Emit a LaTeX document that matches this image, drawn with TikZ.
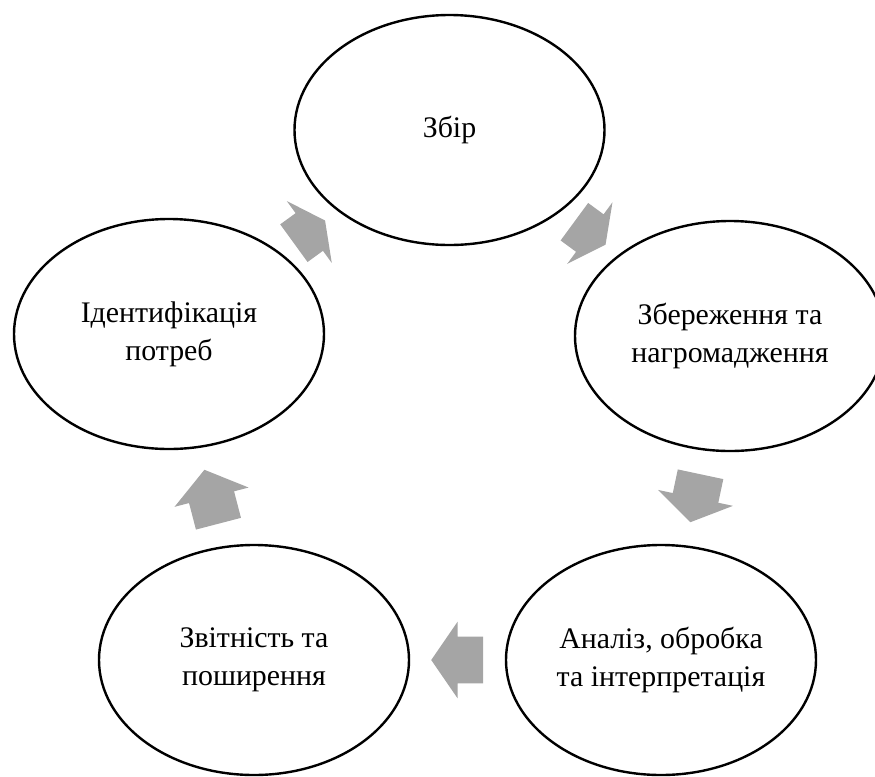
\documentclass[tikz,border=0pt]{standalone}
\usepackage{fontspec}
\setmainfont{Liberation Serif}
\usepackage{xcolor}
\usepackage{tikz}
\usetikzlibrary{shapes.geometric,shapes.arrows,calc}

\definecolor{arrowgray}{HTML}{A5A5A5}

\begin{document}
\begin{tikzpicture}[
    x=0.75pt,y=-0.75pt,
    every node/.style={font=\fontsize{22.4}{28.5}\selectfont},
    phase/.style     ={ellipse,draw=black,line width=1.8pt,fill=white,
                      minimum width=232.5pt,minimum height=172.5pt,
                      inner sep=0pt,align=center},
    cyclearrow/.style={single arrow,draw=none,fill=arrowgray,
                      single arrow head extend=11.25pt,
                      inner xsep=0pt,inner ysep=17.25pt,anchor=tail},
  ]
  \useasboundingbox (0,0) rectangle (875,776);
  \clip (0,0) rectangle (875,776);

  % --- phases of the cycle ---
  \node[phase] (zbir)    at (449.5,130) {Збір};
  \node[phase] (zberezh) at (730,336)   {Збереження та\\нагромадження};
  \node[phase] (analiz)  at (661,660)   {Аналіз, обробка\\та інтерпретація};
  \node[phase] (zvit)    at (254,660)   {Звітність та\\поширення};
  \node[phase] (ident)   at (169,334)   {Ідентифікація\\потреб};

  % --- block arrows between the phases (tail set back by half the length) ---
  \node[cyclearrow,minimum height=28.9pt,single arrow tip angle=126,rotate=36]
       (a1) at ($(ident)!0.5!(zbir)!14.45pt!(ident)$) {};
  \node[cyclearrow,minimum height=29pt,single arrow tip angle=126,rotate=-36.3]
       (a2) at ($(zbir)!0.5!(zberezh)!14.5pt!(zbir)$) {};
  \node[cyclearrow,minimum height=36.75pt,single arrow tip angle=114,rotate=-102]
       (a3) at ($(zberezh)!0.5!(analiz)!18.4pt!(zberezh)$) {};
  \node[cyclearrow,minimum height=39pt,single arrow tip angle=111,rotate=180]
       (a4) at ($(analiz)!0.5!(zvit)!19.5pt!(analiz)$) {};
  \node[cyclearrow,minimum height=41.8pt,single arrow tip angle=107,rotate=104.6]
       (a5) at ($(zvit)!0.5!(ident)!20.9pt!(zvit)$) {};
\end{tikzpicture}
\end{document}
